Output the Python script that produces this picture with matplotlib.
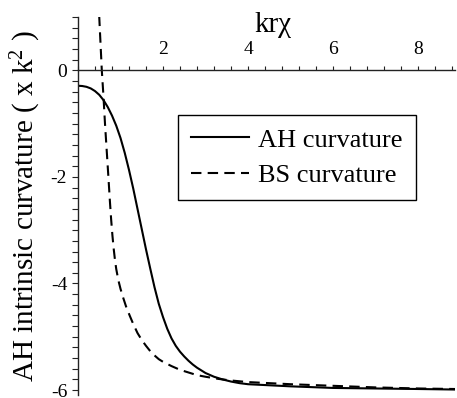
import numpy as np
import matplotlib
matplotlib.use('Agg')
from matplotlib import pyplot as plt
from matplotlib.ticker import MultipleLocator, FixedLocator

plt.rcParams['font.family'] = ['Liberation Serif', 'DejaVu Serif']
plt.rcParams['mathtext.fontset'] = 'custom'
plt.rcParams['mathtext.rm'] = 'Liberation Serif'
plt.rcParams['axes.unicode_minus'] = False

# AH intrinsic curvature (solid)
ah_x = [0.0, 0.1, 0.2, 0.3, 0.4, 0.5, 0.6, 0.7, 0.8, 0.9, 1.0, 1.1, 1.2, 1.3,
        1.4, 1.5, 1.6, 1.7, 1.8, 1.9, 2.0, 2.1, 2.2, 2.3, 2.4, 2.5, 2.6, 2.7,
        2.8, 2.9, 3.0, 3.2, 3.4, 3.6, 3.8, 4.0, 4.5, 5.0, 6.0, 7.0, 8.0, 8.87]
ah_y = [-0.29, -0.295, -0.31, -0.34, -0.39, -0.46, -0.56, -0.69, -0.85, -1.04,
        -1.27, -1.55, -1.87, -2.22, -2.6, -2.98, -3.36, -3.72, -4.07, -4.38,
        -4.63, -4.85, -5.03, -5.17, -5.28, -5.37, -5.45, -5.52, -5.58, -5.63,
        -5.68, -5.75, -5.8, -5.84, -5.87, -5.89, -5.91, -5.93, -5.96, -5.97,
        -5.98, -5.99]

# BS curvature (dashed)
bs_x = [0.47, 0.5, 0.53, 0.56, 0.6, 0.635, 0.675, 0.715, 0.75, 0.78, 0.81,
        0.84, 0.87, 0.9, 0.95, 1.0, 1.06, 1.13, 1.22, 1.3, 1.4, 1.5, 1.6, 1.7,
        1.8, 1.9, 2.0, 2.2, 2.4, 2.6, 2.8, 3.0, 3.3, 3.6, 4.0, 4.5, 5.0, 6.0,
        7.0, 8.0, 8.87]
bs_y = [1.6, 1.0, 0.5, 0.0, -0.5, -1.0, -1.5, -2.0, -2.45, -2.8, -3.1, -3.35,
        -3.56, -3.73, -3.94, -4.1, -4.26, -4.43, -4.61, -4.76, -4.93, -5.06,
        -5.17, -5.27, -5.35, -5.42, -5.47, -5.55, -5.62, -5.67, -5.72, -5.75,
        -5.79, -5.82, -5.85, -5.87, -5.89, -5.92, -5.95, -5.97, -5.98]

x_labels = [2, 4, 6, 8]
y_labels = [0, -2, -4, -6]

W, H = 457, 398
fig = plt.figure(figsize=(W / 100, H / 100), dpi=100)
ax = fig.add_axes([78 / W, 2.6 / H, 377 / W, 378.4 / H])

ax.plot(ah_x, ah_y, color='black', lw=1.5, label='AH curvature')
ax.plot(bs_x, bs_y, color='black', lw=1.5, ls=(0, (5, 3)), label='BS curvature')

ax.set_xlim(0, 8.87)
ax.set_ylim(-6.1, 1.0)

# axes cross at the origin, x axis along y = 0 with labels above it
ax.spines['bottom'].set_visible(False)
ax.spines['right'].set_visible(False)
ax.spines['top'].set_position(('data', 0))
for s in ('top', 'left'):
    ax.spines[s].set_color('#222222')
    ax.spines[s].set_linewidth(1.0)

ax.xaxis.set_ticks_position('top')
ax.xaxis.set_major_locator(FixedLocator(x_labels))
ax.xaxis.set_minor_locator(MultipleLocator(0.4))
ax.yaxis.set_major_locator(FixedLocator(y_labels))
ax.yaxis.set_minor_locator(MultipleLocator(0.2))
ax.tick_params(axis='x', which='both', direction='out', length=3, width=0.8,
               color='#222222', labelsize=14, pad=6)
ax.tick_params(axis='y', which='both', direction='out', length=4.3, width=0.8,
               color='#222222', labelsize=14, pad=3.5)

fig.text(273 / W, 1 - 32 / H, 'kr\u03c7', fontsize=21, ha='center', va='baseline')
fig.text(26 / W, 1 - 206 / H, r'AH intrinsic curvature ( x k$\mathregular{^2}$ )',
         fontsize=21, rotation=90, ha='center', va='center')

leg = ax.legend(loc='upper left', bbox_to_anchor=(178 / W, 1 - 115 / H),
                bbox_transform=fig.transFigure, borderaxespad=0, fancybox=False,
                edgecolor='black', framealpha=1, fontsize=19, handlelength=2.2,
                handletextpad=0.35, borderpad=0.5, labelspacing=0.45)
leg.get_frame().set_linewidth(1.0)

plt.savefig('out.png', dpi=100)
